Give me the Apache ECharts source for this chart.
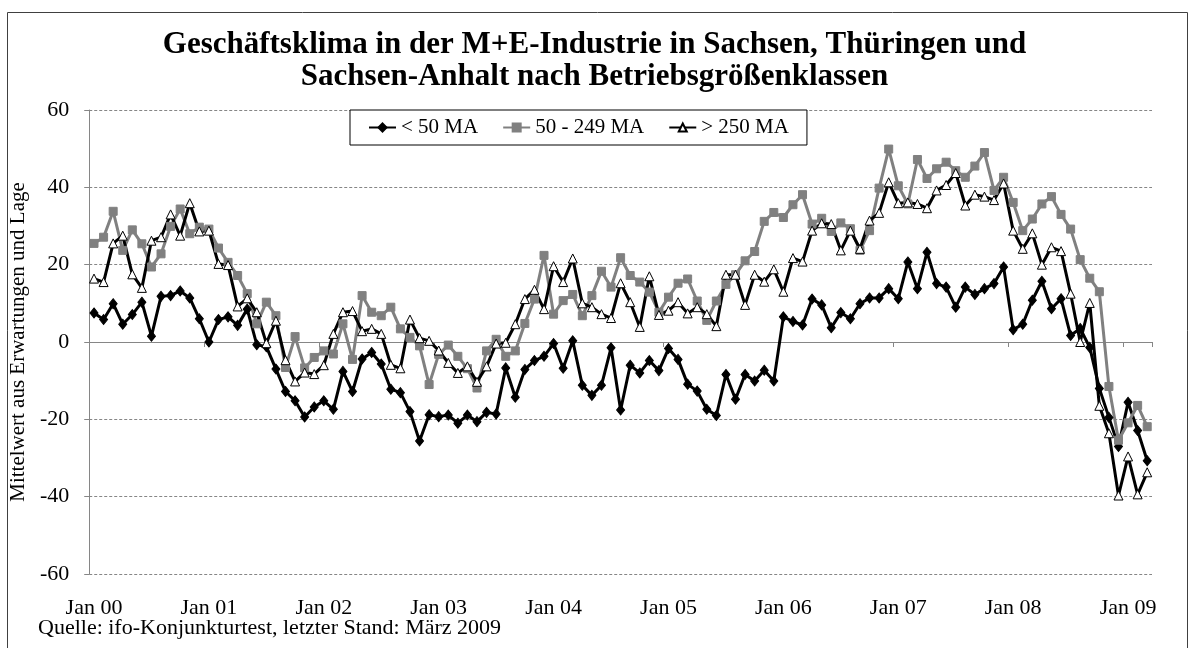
<!DOCTYPE html>
<html>
<head>
<meta charset="utf-8">
<script src="https://cdn.jsdelivr.net/npm/echarts/dist/echarts.min.js"></script>
</head>
<body style="margin:0;background:#fff">
<div id="container" style="width:1189px;height:648px"></div>
<script type="text/javascript">
// Monatswerte Jan 2000 - Mrz 2009
var monthNames = ['Jan','Feb','Mrz','Apr','Mai','Jun','Jul','Aug','Sep','Okt','Nov','Dez'];
var yearLabels = ['00','01','02','03','04','05','06','07','08','09'];
var seriesNames = ['< 50 MA', '50 - 249 MA', '> 250 MA'];

var under50 = [
  7.5, 5.8, 9.9, 4.6, 7.1, 10.3, 1.5, 11.8, 12, 13.2, 11.4, 6,
  0, 5.8, 6.5, 4.3, 8.5, -0.7, -1.2, -7, -12.8, -15.2, -19.4, -16.8,
  -15.2, -17.4, -7.6, -12.8, -4.4, -2.7, -5.7, -12.2, -13.1, -18, -25.6, -18.8,
  -19.3, -18.9, -21, -18.9, -20.6, -18.2, -18.6, -6.7, -14.3, -7.1, -4.8, -3.7,
  -0.4, -6.8, 0.3, -11.2, -13.8, -11.2, -1.5, -17.6, -6, -8, -4.8, -7.4,
  -1.7, -4.5, -10.9, -12.7, -17.4, -19, -8.4, -14.8, -8.4, -10.1, -7.3, -10.1,
  6.5, 5.3, 4.4, 11.1, 9.6, 3.7, 7.6, 6, 9.9, 11.4, 11.4, 13.8,
  11.2, 20.7, 13.8, 23.2, 15.1, 14.2, 9, 14.2, 12.3, 13.8, 15.1, 19.4,
  3.2, 4.6, 10.8, 15.7, 8.6, 11.2, 1.7, 3.5, -1.4, -12, -19.5, -27,
  -15.6, -22.9, -30.7
];
var mid50to249 = [
  25.5, 27.1, 33.8, 23.7, 29, 25.4, 19.4, 22.8, 29.9, 34.4, 28, 29.7,
  29.2, 24.3, 20.6, 17.2, 12.5, 4.7, 10.3, 6.8, -6.6, 1.4, -6.7, -4,
  -2.3, -3.1, 4.7, -4.5, 12, 7.7, 6.8, 9, 3.4, 1.2, -1, -11,
  -3.2, -0.8, -3.7, -6.9, -11.9, -2.3, 0.7, -3.7, -2.3, 4.8, 11.1, 22.4,
  7.2, 10.7, 12.3, 6.8, 12, 18.3, 14.2, 21.8, 17.2, 15.5, 12.9, 7.7,
  11.6, 15.2, 16.3, 10.6, 5.6, 10.6, 14.9, 17.4, 21, 23.4, 31.2, 33.5,
  32.2, 35.5, 38.1, 30.5, 32, 28.6, 30.8, 29.3, 23.7, 28.8, 39.8, 49.9,
  40.4, 35.7, 47.2, 42.3, 44.8, 46.5, 44.3, 42.6, 45.5, 49, 39.2, 42.6,
  36.1, 28.8, 31.8, 35.7, 37.6, 33, 29.2, 21.3, 16.5, 13, -11.5, -25.4,
  -20.9, -16.4, -21.9
];
var over250 = [
  16.4, 15.5, 25.5, 27.5, 17.5, 14, 26.2, 27.1, 33, 27.5, 35.9, 28.6,
  28.8, 20.2, 19.9, 9.2, 11.3, 7.7, -0.3, 5.5, -4.7, -10.2, -7.9, -8.3,
  -6, 2.1, 7.7, 8, 2.8, 3.4, 2.1, -5.9, -6.8, 5.8, 1, 0.3,
  -2.2, -5.4, -8, -6.3, -10.3, -6.3, -0.4, -0.2, 4.6, 11.1, 13.5, 8.5,
  19.6, 15.5, 21.6, 10, 9, 7.2, 6.2, 15.2, 10.3, 3.9, 17, 7,
  8.1, 10.3, 7.4, 9, 7.2, 4.1, 17.4, 17.4, 9.6, 17.4, 15.6, 18.8,
  13, 21.7, 20.8, 28.8, 30.7, 30.5, 23.7, 28.8, 24.1, 31.4, 33.4, 41.3,
  35.9, 36.1, 35.7, 34.6, 39.2, 40.6, 43.7, 35.3, 38.1, 37.6, 36.7, 41,
  28.8, 24.1, 28.1, 20, 24.5, 23.5, 12.5, 0, 10.1, -16.5, -23.6, -39.7,
  -29.6, -39.4, -33.7
];

var categories = [];
for (var y = 0; y < yearLabels.length; y++) {
  for (var m = 0; m < 12; m++) {
    if (categories.length < under50.length) categories.push(monthNames[m] + ' ' + yearLabels[y]);
  }
}

var serif = '"Liberation Serif", "Times New Roman", serif';
var myChart = echarts.init(document.getElementById('container'));

var option = {
  backgroundColor: '#fff',
  animation: false,
  textStyle: { fontFamily: serif, color: '#000' },
  title: {
    text: 'Geschäftsklima in der M+E-Industrie in Sachsen, Thüringen und\nSachsen-Anhalt nach Betriebsgrößenklassen',
    left: 'center',
    top: 24,
    textStyle: { fontFamily: serif, fontSize: 31, fontWeight: 'bold', lineHeight: 32, color: '#000' }
  },
  legend: {
    top: 110,
    left: 350,
    data: seriesNames,
    backgroundColor: '#fff',
    borderColor: '#000',
    borderWidth: 1,
    borderRadius: 0,
    padding: [7, 18],
    itemGap: 24,
    itemWidth: 27,
    itemHeight: 10,
    textStyle: { fontFamily: serif, fontSize: 21, color: '#000' }
  },
  grid: { left: 89, right: 37, top: 110, bottom: 74 },
  xAxis: [
    {
      type: 'category',
      data: categories,
      boundaryGap: true,
      position: 'bottom',
      axisLine: { show: false, onZero: false },
      axisTick: { show: false },
      splitLine: { show: false },
      axisLabel: { interval: 11, margin: 23, fontFamily: serif, fontSize: 22, color: '#000' }
    },
    {
      type: 'category',
      data: categories,
      boundaryGap: true,
      position: 'bottom',
      axisLine: { show: true, onZero: true, lineStyle: { color: '#868686', width: 1 } },
      axisTick: { show: true, interval: 11, length: 5, lineStyle: { color: '#868686' } },
      axisLabel: { show: false },
      splitLine: { show: false }
    }
  ],
  yAxis: {
    type: 'value',
    min: -60,
    max: 60,
    interval: 20,
    name: 'Mittelwert aus Erwartungen und Lage',
    nameLocation: 'middle',
    nameRotate: 90,
    nameGap: 53,
    nameTextStyle: { fontFamily: serif, fontSize: 21, color: '#000' },
    axisLine: { show: true, onZero: false, lineStyle: { color: '#868686', width: 1 } },
    axisTick: { show: true, length: 5, lineStyle: { color: '#868686' } },
    axisLabel: { margin: 20, fontFamily: serif, fontSize: 22, color: '#000' },
    splitLine: { show: true, lineStyle: { color: '#868686', type: [3, 2], width: 1 } }
  },
  series: [
    {
      name: seriesNames[0],
      type: 'line',
      xAxisIndex: 0,
      data: under50,
      symbol: 'diamond',
      symbolSize: [8, 10],
      showAllSymbol: true,
      lineStyle: { color: '#000', width: 3 },
      itemStyle: { color: '#000', borderColor: '#000', borderWidth: 1 }
    },
    {
      name: seriesNames[1],
      type: 'line',
      xAxisIndex: 0,
      data: mid50to249,
      symbol: 'rect',
      symbolSize: 8,
      showAllSymbol: true,
      lineStyle: { color: '#808080', width: 3 },
      itemStyle: { color: '#808080', borderColor: '#808080', borderWidth: 1 }
    },
    {
      name: seriesNames[2],
      type: 'line',
      xAxisIndex: 0,
      data: over250,
      symbol: 'triangle',
      symbolSize: 9,
      showAllSymbol: true,
      lineStyle: { color: '#000', width: 3 },
      itemStyle: { color: '#fff', borderColor: '#000', borderWidth: 1 }
    }
  ],
  graphic: [
    {
      type: 'rect',
      left: 5,
      top: 10,
      shape: { width: 1180, height: 650 },
      style: { fill: 'none', stroke: '#404040', lineWidth: 1 },
      z: -1
    },
    {
      type: 'text',
      left: 38,
      top: 617,
      style: { text: 'Quelle: ifo-Konjunkturtest, letzter Stand: März 2009', font: '22px ' + serif, fill: '#000' }
    }
  ]
};

myChart.setOption(option);
</script>
</body>
</html>
